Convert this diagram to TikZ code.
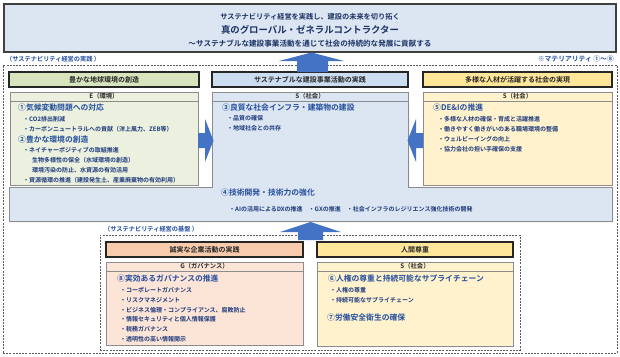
\documentclass[tikz,border=0pt]{standalone}
\usepackage{fontspec}
\newfontfamily\jp[BoldFont={Noto Sans CJK JP Bold}]{Noto Sans CJK JP}
\usetikzlibrary{shadows}
\newcommand\myfs[1]{\fontsize{#1}{#1}\selectfont}
\definecolor{arrblue}{RGB}{68,114,196}
\definecolor{hblue}{RGB}{36,78,158}
\definecolor{iblue}{RGB}{30,58,125}
\definecolor{navy}{RGB}{28,50,100}
\definecolor{topfill}{RGB}{220,230,242}
\definecolor{ghead}{RGB}{215,228,189}
\definecolor{gbody}{RGB}{235,241,222}
\definecolor{bhead}{RGB}{205,221,241}
\definecolor{bbody}{RGB}{220,230,242}
\definecolor{yhead}{RGB}{255,230,153}
\definecolor{ybody}{RGB}{255,242,204}
\definecolor{shead}{RGB}{248,203,173}
\definecolor{sbody}{RGB}{252,228,214}
\tikzset{
  shad/.style={drop shadow={shadow xshift=1.2pt,shadow yshift=-1.2pt,fill=black!45,opacity=0.6}},
  hdrbox/.style={draw=black!85, line width=1.1pt, inner sep=0pt, minimum height=15pt,
    font=\jp\bfseries\myfs{7}, text=black!85, shad},
  subbox/.style={draw=black!45, line width=0.5pt, inner sep=0pt, minimum height=9pt,
    font=\jp\bfseries\myfs{6.3}, text=black!85, shad},
  bodybox/.style={draw=black!45, line width=0.5pt, inner sep=0pt, shad},
  head/.style={anchor=west, inner sep=0pt, font=\jp\bfseries\myfs{7.8}, text=hblue},
  item/.style={anchor=west, inner sep=0pt, font=\jp\bfseries\myfs{6}, text=iblue},
  lbl/.style={inner sep=0pt, font=\jp\bfseries\myfs{6.2}, text=hblue},
  toptext/.style={inner sep=0pt, text=navy},
  dashbox/.style={draw=black!65, line width=0.8pt, dash pattern=on 2pt off 1.2pt, inner sep=0pt},
  blockarrow/.style={fill=arrblue, draw=none}
}
\begin{document}
\begin{tikzpicture}[x=1pt,y=-1pt]
\useasboundingbox (0,0) rectangle (620,356);

% dashed frames
\node[dashbox, minimum width=614pt, minimum height=288pt] (outer) at (310,209) {};
\node[dashbox, minimum width=420pt, minimum height=115pt] (inner) at (310,292.5) {};

% top box
\node[draw=black!75, line width=1.4pt, fill=topfill, minimum width=612pt, minimum height=48pt, inner sep=0pt, shad] (top) at (310,28) {};
\node[toptext, font=\jp\bfseries\myfs{7.2}] (t1) at (310,16.5) {サステナビリティ経営を実践し、建設の未来を切り拓く};
\node[toptext, font=\jp\bfseries\myfs{9.4}] (t2) at (310,29.5) {真のグローバル・ゼネラルコントラクター};
\node[toptext, font=\jp\bfseries\myfs{7.6}] (t3) at (310,43.5) {～サステナブルな建設事業活動を通じて社会の持続的な発展に貢献する};

% labels
\node[lbl, anchor=west] (l1) at (6,59) {（サステナビリティ経営の実践 ）};
\node[lbl, anchor=east, font=\jp\bfseries\myfs{6.8}] (l2) at (614,59) {※マテリアリティ ①～⑧};
\node[lbl, anchor=west] (l3) at (104,229) {（サステナビリティ経営の基盤 ）};

% left column (E)
\node[hdrbox, fill=ghead, minimum width=190pt] (gh) at (104,79.5) {豊かな地球環境の創造};
\node[bodybox, fill=gbody, minimum width=188pt, minimum height=84pt] (gb) at (104,143) {};
\node[subbox, fill=gbody, minimum width=188pt] (gs) at (104,96.5) {E（環境）};
\node[head] (g1) at (18,108) {①気候変動問題への対応};
\node[item] (g1a) at (23,119.5) {・CO2排出削減};
\node[item] (g1b) at (23,129.5) {・カーボンニュートラルへの貢献（洋上風力、ZEB等）};
\node[head] (g2) at (18,140) {②豊かな環境の創造};
\node[item] (g2a) at (23,150) {・ネイチャーポジティブの取組推進};
\node[item] (g2b) at (32,160) {生物多様性の保全（水域環境の創造）};
\node[item] (g2c) at (32,170) {環境汚染の防止、水資源の有効活用};
\node[item] (g2d) at (23,180) {・資源循環の推進（建設発生土、産業廃棄物の有効利用）};

% right column (S)
\node[hdrbox, fill=yhead, minimum width=189pt] (yh) at (517.5,79.5) {多様な人材が活躍する社会の実現};
\node[bodybox, fill=ybody, minimum width=189pt, minimum height=84pt] (yb) at (517.5,143) {};
\node[subbox, fill=ybody, minimum width=189pt] (ys) at (517.5,96.5) {S（社会）};
\node[head] (y5) at (433,108) {⑤DE\&Iの推進};
\node[item] (y5a) at (438,119.5) {・多様な人材の確保・育成と活躍推進};
\node[item] (y5b) at (438,129.5) {・働きやすく働きがいのある職場環境の整備};
\node[item] (y5c) at (438,139.5) {・ウェルビーイングの向上};
\node[item] (y5d) at (438,149.5) {・協力会社の担い手確保の支援};

% center column + wide box (4)
\fill[black!45, opacity=0.6] (213.2,102.2) -- (409.2,102.2) -- (409.2,188.2) -- (613.2,188.2) -- (613.2,222.2) -- (10.2,222.2) -- (10.2,188.2) -- (213.2,188.2) -- cycle;
\draw[draw=black!45, line width=0.5pt, fill=bbody] (212,101) -- (408,101) -- (408,187) -- (612,187) -- (612,221) -- (9,221) -- (9,187) -- (212,187) -- cycle;
\node[hdrbox, fill=bhead, minimum width=196pt] (ch) at (310,79.5) {サステナブルな建設事業活動の実践};
\node[subbox, fill=bbody, minimum width=196pt] (cs) at (310,96.5) {S（社会）};
\node[head] (c3) at (222,108) {③良質な社会インフラ・建築物の建設};
\node[item] (c3a) at (227,118.5) {・品質の確保};
\node[item] (c3b) at (227,128.5) {・地域社会との共存};
\node[head] (c4) at (221,192.5) {④技術開発・技術力の強化};
\node[item] (c4a) at (229,209) {・AIの活用によるDXの推進　・GXの推進　・社会インフラのレジリエンス強化技術の開発};

% lower left (G)
\node[hdrbox, fill=shead, minimum width=197pt] (sh) at (204.5,249.5) {誠実な企業活動の実践};
\node[bodybox, fill=sbody, minimum width=197pt, minimum height=74pt] (sb) at (204.5,308) {};
\node[subbox, fill=sbody, minimum width=197pt] (ss) at (204.5,266.5) {G（ガバナンス）};
\node[head] (s8) at (117,278.5) {⑧実効あるガバナンスの推進};
\node[item] (s8a) at (120,290) {・コーポレートガバナンス};
\node[item] (s8b) at (120,300) {・リスクマネジメント};
\node[item] (s8c) at (120,310) {・ビジネス倫理・コンプライアンス、腐敗防止};
\node[item] (s8d) at (120,319.5) {・情報セキュリティと個人情報保護};
\node[item] (s8e) at (120,329.5) {・税務ガバナンス};
\node[item] (s8f) at (120,339) {・透明性の高い情報開示};

% lower right (S)
\node[hdrbox, fill=yhead, minimum width=196pt] (rh) at (415,249.5) {人間尊重};
\node[bodybox, fill=ybody, minimum width=196pt, minimum height=75pt] (rb) at (415,308.5) {};
\node[subbox, fill=ybody, minimum width=196pt] (rs) at (415,266.5) {S（社会）};
\node[head] (r6) at (328,278.5) {⑥人権の尊重と持続可能なサプライチェーン};
\node[item] (r6a) at (330,290) {・人権の尊重};
\node[item] (r6b) at (330,300) {・持続可能なサプライチェーン};
\node[head] (r7) at (327,318) {⑦労働安全衛生の確保};

% block arrows
\fill[blockarrow] (297,72) -- (297,61) -- (279,61) -- (311.5,52.5) -- (344,61) -- (328,61) -- (328,72) -- cycle;
\fill[blockarrow] (298,240) -- (298,232) -- (280,232) -- (310.5,222) -- (341,232) -- (323,232) -- (323,240) -- cycle;
\fill[blockarrow] (198,133) -- (205,133) -- (205,119) -- (213.5,140.5) -- (205,162) -- (205,148) -- (198,148) -- cycle;
\fill[blockarrow] (423,133) -- (416,133) -- (416,119) -- (407.5,140.5) -- (416,162) -- (416,148) -- (423,148) -- cycle;
\end{tikzpicture}
\end{document}
